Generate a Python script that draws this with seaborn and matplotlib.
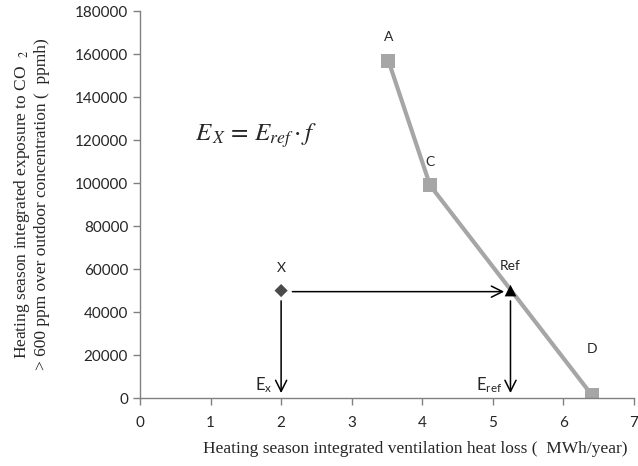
import matplotlib
matplotlib.use("Agg")
import matplotlib.pyplot as plt
import seaborn as sns
import pandas as pd

# Data
case_labels = ["A", "C", "D"]
heat_loss = [3.52, 4.11, 6.40]          # MWh/year
exposure = [157000, 99000, 1500]        # ppmh

ref_x, ref_y = 5.25, 50000
x_point_x, x_point_y = 2.0, 50000

x_ticks = [0, 1, 2, 3, 4, 5, 6, 7]
y_ticks = [0, 20000, 40000, 60000, 80000, 100000, 120000, 140000, 160000, 180000]

sns.set_style("white")
plt.rcParams["font.family"] = ["Lato", "DejaVu Sans"]
plt.rcParams["mathtext.fontset"] = "stix"

fig = plt.figure(figsize=(6.38, 4.66), dpi=100)
ax = fig.add_axes([0.2194, 0.1459, 0.7743, 0.83])

df = pd.DataFrame({"loss": heat_loss, "exp": exposure, "case": case_labels})
sns.lineplot(data=df, x="loss", y="exp", ax=ax, color="#A6A6A6", linewidth=3,
             marker="s", markersize=10, markeredgewidth=0, sort=False)
sns.scatterplot(x=[x_point_x], y=[x_point_y], ax=ax, marker="D", s=45,
                color="#4A4A4A", edgecolor="none", zorder=5)
sns.scatterplot(x=[ref_x], y=[ref_y], ax=ax, marker="^", s=70,
                color="black", edgecolor="none", zorder=5)

# point labels
for lx, ly, lab in zip(heat_loss, exposure, case_labels):
    dy = 11000 if lab != "D" else 21500
    ax.text(lx, ly + dy, lab, ha="center", va="center", fontsize=10)
ax.text(ref_x, ref_y + 11500, "Ref", ha="center", va="center", fontsize=10)
ax.text(x_point_x, x_point_y + 10500, "X", ha="center", va="center", fontsize=10)

# arrows
arrow = dict(arrowstyle="->", color="black", lw=1.1, mutation_scale=20)
ax.annotate("", xy=(ref_x - 0.05, ref_y - 500), xytext=(x_point_x + 0.12, ref_y - 500),
            arrowprops=arrow)
ax.annotate("", xy=(x_point_x, 1000), xytext=(x_point_x, x_point_y - 3500),
            arrowprops=arrow)
ax.annotate("", xy=(ref_x, 1000), xytext=(ref_x, ref_y - 3500),
            arrowprops=arrow)
ax.text(x_point_x - 0.12, 1500, "E$_\\mathregular{x}$", ha="right", va="bottom", fontsize=12)
ax.text(ref_x - 0.12, 1500, "E$_\\mathregular{ref}$", ha="right", va="bottom", fontsize=12)

# equation
ax.text(0.78, 122000, r"$E_{\,X} \,=\, E_{ref}\cdot f$", fontsize=18, ha="left", va="center")

ax.set_xlim(0, 7)
ax.set_ylim(0, 180000)
ax.set_xticks(x_ticks)
ax.set_yticks(y_ticks)
ax.tick_params(axis="both", which="both", direction="out", length=5, width=1,
               color="#808080", labelsize=11, left=True, bottom=True)
ax.tick_params(axis="x", pad=8)
for side in ["top", "right"]:
    ax.spines[side].set_visible(False)
for side in ["left", "bottom"]:
    ax.spines[side].set_color("#808080")
    ax.spines[side].set_linewidth(1)

ax.set_xlabel("Heating season integrated ventilation heat loss (  MWh/year)",
              family="Liberation Serif", fontsize=12.5)
ax.xaxis.set_label_coords(0.557, -0.112)
ax.set_ylabel("Heating season integrated exposure to CO  $_{2}$\n"
              "> 600 ppm over outdoor concentration (  ppmh)",
              family="Liberation Serif", fontsize=12.5)
ax.yaxis.set_label_coords(-0.182, 0.5)

fig.savefig("out.png", dpi=100)
